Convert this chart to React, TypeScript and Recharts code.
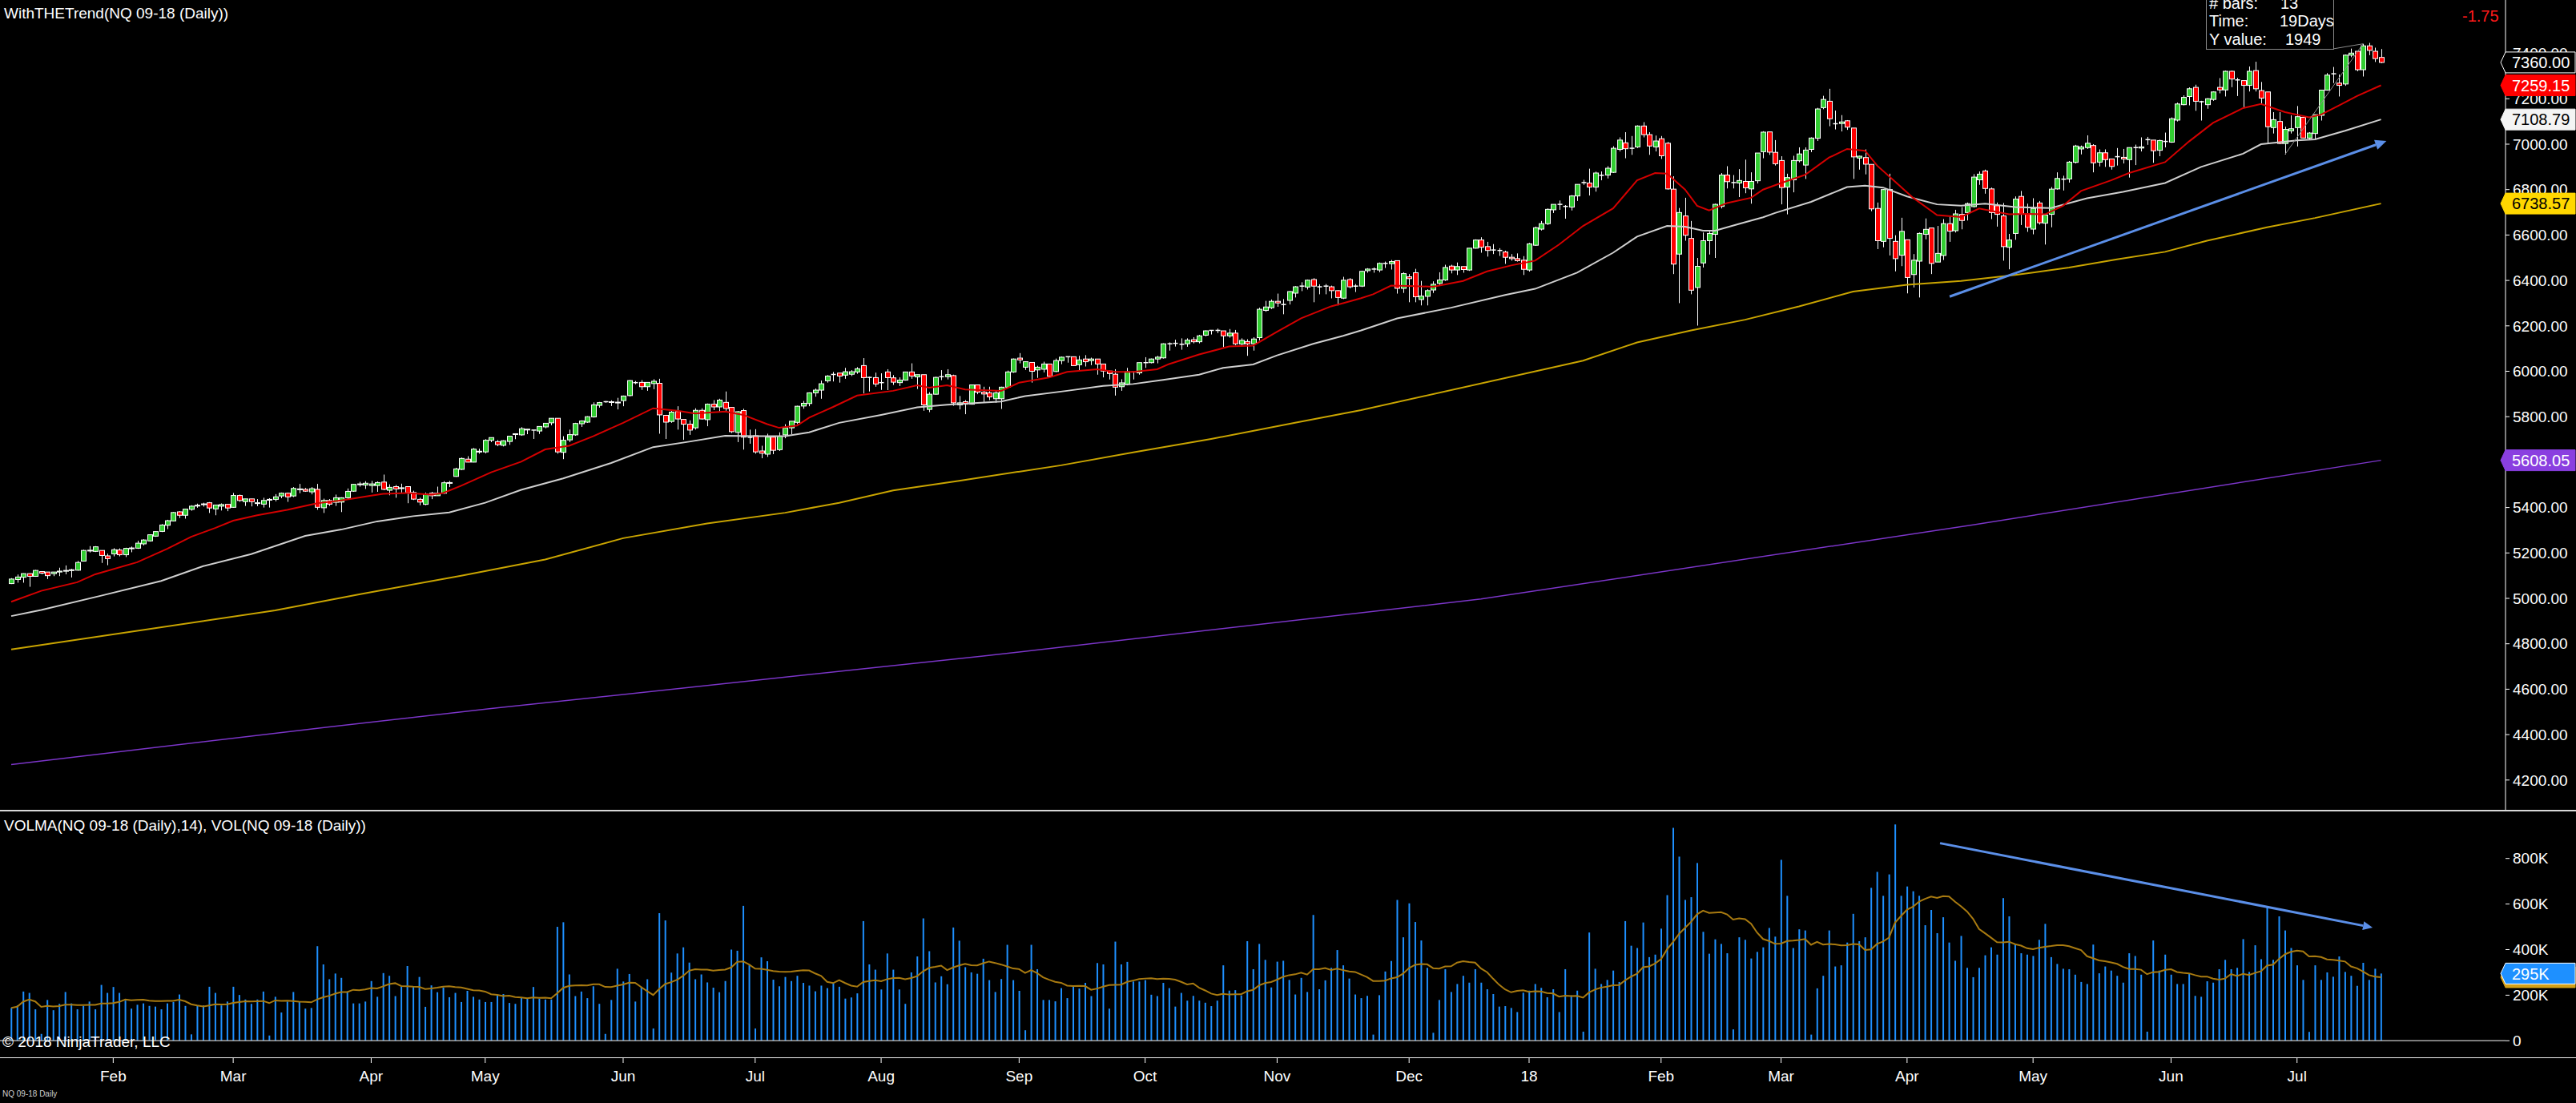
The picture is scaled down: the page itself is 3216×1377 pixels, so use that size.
import React from "react";
import { ComposedChart, Bar, Line, XAxis, YAxis, ReferenceLine } from "recharts";

const FONT = "'Liberation Sans', Arial, Helvetica, sans-serif";

// sessions per month, the first month starts on Jan 9 2017 (CME holiday sessions included)
const monthNames = ["Jan", "Feb", "Mar", "Apr", "May", "Jun", "Jul", "Aug", "Sep", "Oct", "Nov", "Dec", "18", "Feb", "Mar", "Apr", "May", "Jun", "Jul"];
const monthSessions = [17, 20, 23, 19, 23, 22, 21, 23, 21, 22, 22, 20, 22, 20, 21, 21, 23, 21, 15];

const open = [
  5065, 5083, 5093, 5109, 5097, 5118, 5116, 5109, 5116, 5121,
  5124, 5124, 5164, 5210, 5207, 5211, 5187, 5196, 5213, 5192,
  5220, 5221, 5240, 5253, 5274, 5295, 5322, 5341, 5381, 5366,
  5392, 5408, 5414, 5421, 5394, 5406, 5414, 5401, 5453, 5426,
  5438, 5420, 5415, 5434, 5436, 5451, 5463, 5451, 5481, 5480,
  5469, 5480, 5399, 5431, 5423, 5424, 5443, 5472, 5502, 5499,
  5497, 5497, 5512, 5476, 5492, 5486, 5492, 5466, 5436, 5414,
  5463, 5452, 5463, 5509, 5537, 5568, 5613, 5600, 5647, 5645,
  5696, 5690, 5674, 5691, 5724, 5720, 5744, 5741, 5737, 5755,
  5773, 5793, 5643, 5698, 5720, 5769, 5776, 5799, 5850, 5866,
  5865, 5863, 5871, 5893, 5950, 5951, 5932, 5946, 5947, 5806,
  5779, 5823, 5788, 5767, 5751, 5828, 5787, 5855, 5843, 5863,
  5841, 5731, 5827, 5709, 5716, 5649, 5635, 5710, 5655, 5720,
  5751, 5775, 5847, 5858, 5905, 5917, 5958, 5986, 5992, 5983,
  5987, 5997, 6025, 5973, 5972, 5950, 5997, 5971, 5950, 5961,
  5997, 5975, 5985, 5832, 5899, 5976, 5976, 5981, 5852, 5866,
  5855, 5940, 5908, 5905, 5879, 5879, 5930, 5997, 6058, 6018,
  6039, 6006, 6009, 6032, 5999, 6047, 6064, 6064, 6029, 6054,
  6047, 6054, 6032, 6001, 5987, 5932, 5942, 5997, 5993, 6038,
  6038, 6054, 6059, 6121, 6123, 6119, 6121, 6139, 6130, 6159,
  6180, 6180, 6178, 6156, 6168, 6120, 6131, 6121, 6148, 6268,
  6280, 6308, 6294, 6312, 6344, 6375, 6371, 6404, 6372, 6375,
  6372, 6355, 6322, 6404, 6375, 6375, 6443, 6450, 6446, 6475,
  6474, 6487, 6365, 6416, 6434, 6316, 6330, 6358, 6387, 6402,
  6463, 6446, 6461, 6446, 6542, 6578, 6549, 6534, 6532, 6525,
  6502, 6496, 6489, 6446, 6555, 6626, 6650, 6711, 6735, 6726,
  6723, 6772, 6831, 6829, 6811, 6863, 6864, 6876, 6977, 7006,
  6982, 6988, 7080, 7042, 6988, 7024, 7004, 6802, 6516, 6684,
  6585, 6369, 6477, 6575, 6603, 6726, 6864, 6831, 6829, 6836,
  6803, 6839, 6967, 7054, 6964, 6928, 6811, 6843, 6927, 6908,
  6977, 7026, 7161, 7189, 7090, 7091, 7103, 7071, 6939, 6941,
  6911, 6717, 6572, 6800, 6572, 6511, 6579, 6426, 6485, 6603,
  6631, 6481, 6510, 6650, 6619, 6691, 6699, 6725, 6843, 6882,
  6803, 6729, 6684, 6546, 6607, 6770, 6691, 6626, 6741, 6652,
  6691, 6803, 6846, 6847, 6920, 6979, 6985, 6994, 6921, 6962,
  6935, 6945, 6942, 6932, 6985, 6983, 7020, 7018, 6973, 7012,
  7009, 7106, 7174, 7210, 7250, 7187, 7174, 7197, 7250, 7239,
  7321, 7283, 7280, 7259, 7324, 7236, 7230, 7073, 7100, 7003,
  7059, 7073, 7118, 7027, 7047, 7127, 7238, 7310, 7269, 7265,
  7392, 7409, 7328, 7433, 7409, 7382,
];

const high = [
  5089, 5105, 5110, 5110, 5125, 5120, 5116, 5116, 5135, 5145,
  5130, 5165, 5214, 5230, 5230, 5211, 5197, 5221, 5220, 5223,
  5228, 5254, 5260, 5282, 5295, 5327, 5346, 5380, 5384, 5395,
  5410, 5417, 5421, 5424, 5412, 5418, 5414, 5464, 5457, 5438,
  5438, 5437, 5443, 5441, 5459, 5466, 5466, 5490, 5504, 5486,
  5490, 5504, 5439, 5437, 5457, 5445, 5484, 5504, 5513, 5516,
  5517, 5515, 5545, 5502, 5499, 5505, 5492, 5474, 5443, 5466,
  5469, 5492, 5516, 5517, 5575, 5620, 5626, 5662, 5659, 5701,
  5708, 5697, 5696, 5716, 5725, 5754, 5745, 5741, 5757, 5771,
  5793, 5793, 5714, 5743, 5773, 5784, 5802, 5863, 5865, 5869,
  5872, 5883, 5893, 5961, 5957, 5961, 5951, 5965, 5967, 5808,
  5826, 5846, 5788, 5784, 5837, 5837, 5858, 5873, 5879, 5911,
  5843, 5825, 5835, 5743, 5745, 5672, 5725, 5710, 5731, 5767,
  5780, 5848, 5869, 5907, 5924, 5959, 5983, 5997, 5992, 6015,
  6005, 6018, 6058, 5976, 5994, 5991, 6009, 5983, 5973, 5997,
  6035, 5985, 5985, 5908, 5976, 6005, 6009, 5985, 5891, 5873,
  5940, 5940, 5932, 5932, 5914, 5932, 6003, 6056, 6080, 6044,
  6039, 6024, 6042, 6032, 6056, 6065, 6064, 6064, 6068, 6071,
  6060, 6054, 6032, 6003, 6009, 5965, 6015, 6001, 6038, 6062,
  6056, 6068, 6123, 6127, 6139, 6145, 6145, 6150, 6160, 6180,
  6180, 6188, 6178, 6186, 6182, 6145, 6141, 6150, 6280, 6310,
  6316, 6342, 6318, 6353, 6375, 6392, 6404, 6410, 6383, 6384,
  6377, 6357, 6416, 6410, 6384, 6443, 6454, 6457, 6479, 6483,
  6490, 6487, 6436, 6428, 6451, 6398, 6361, 6396, 6436, 6469,
  6469, 6479, 6461, 6542, 6581, 6590, 6570, 6560, 6542, 6531,
  6516, 6519, 6507, 6565, 6637, 6662, 6717, 6735, 6752, 6732,
  6776, 6823, 6843, 6892, 6879, 6880, 6903, 6991, 7030, 7053,
  7036, 7083, 7097, 7053, 7038, 7036, 7010, 6859, 6719, 6764,
  6662, 6499, 6611, 6615, 6738, 6873, 6903, 6864, 6890, 6932,
  6876, 6961, 7057, 7054, 7018, 6947, 6870, 6949, 6986, 6986,
  7030, 7160, 7213, 7244, 7148, 7128, 7106, 7071, 6949, 6977,
  6911, 6743, 6802, 6870, 6599, 6676, 6579, 6516, 6611, 6673,
  6631, 6640, 6670, 6682, 6711, 6723, 6743, 6868, 6880, 6888,
  6809, 6743, 6741, 6605, 6770, 6794, 6738, 6762, 6750, 6691,
  6811, 6876, 6861, 6926, 6997, 6994, 7039, 7000, 6977, 6977,
  6935, 6983, 6979, 6985, 6998, 7030, 7032, 7018, 7020, 7051,
  7118, 7183, 7215, 7250, 7262, 7191, 7203, 7233, 7291, 7324,
  7324, 7292, 7280, 7342, 7363, 7274, 7230, 7141, 7141, 7077,
  7127, 7168, 7118, 7053, 7130, 7238, 7313, 7340, 7307, 7395,
  7421, 7409, 7442, 7446, 7425, 7419,
];

const low = [
  5063, 5069, 5069, 5051, 5095, 5106, 5085, 5098, 5098, 5106,
  5092, 5122, 5162, 5202, 5204, 5156, 5146, 5185, 5185, 5182,
  5203, 5218, 5233, 5250, 5271, 5292, 5305, 5339, 5354, 5351,
  5386, 5399, 5404, 5376, 5366, 5387, 5384, 5399, 5425, 5407,
  5405, 5406, 5400, 5400, 5427, 5441, 5425, 5446, 5463, 5469,
  5458, 5390, 5376, 5407, 5407, 5380, 5437, 5469, 5492, 5482,
  5466, 5469, 5476, 5454, 5443, 5466, 5419, 5433, 5410, 5410,
  5437, 5452, 5460, 5490, 5535, 5565, 5599, 5599, 5637, 5638,
  5688, 5670, 5669, 5676, 5701, 5716, 5723, 5702, 5724, 5749,
  5762, 5637, 5613, 5688, 5716, 5755, 5773, 5796, 5840, 5861,
  5847, 5832, 5846, 5889, 5943, 5918, 5914, 5921, 5725, 5702,
  5773, 5743, 5698, 5720, 5743, 5787, 5758, 5829, 5823, 5826,
  5728, 5688, 5655, 5681, 5637, 5617, 5623, 5635, 5649, 5705,
  5722, 5768, 5835, 5846, 5888, 5879, 5950, 5955, 5950, 5967,
  5979, 5989, 5902, 5911, 5932, 5918, 5917, 5940, 5935, 5959,
  5967, 5922, 5826, 5820, 5897, 5961, 5964, 5848, 5832, 5811,
  5853, 5899, 5861, 5873, 5861, 5834, 5924, 5993, 6035, 6006,
  5950, 5971, 5995, 5973, 5996, 6031, 6038, 6025, 6003, 6021,
  6027, 5985, 5973, 5964, 5893, 5914, 5938, 5964, 5985, 6015,
  6035, 6035, 6056, 6091, 6109, 6095, 6108, 6123, 6123, 6154,
  6162, 6168, 6106, 6148, 6115, 6115, 6068, 6091, 6136, 6262,
  6274, 6284, 6251, 6294, 6325, 6353, 6360, 6304, 6339, 6339,
  6321, 6290, 6318, 6365, 6349, 6371, 6434, 6434, 6436, 6455,
  6448, 6342, 6345, 6304, 6304, 6290, 6290, 6345, 6377, 6398,
  6431, 6424, 6434, 6442, 6540, 6522, 6505, 6516, 6508, 6473,
  6487, 6483, 6424, 6439, 6552, 6620, 6644, 6697, 6711, 6672,
  6708, 6750, 6821, 6774, 6791, 6841, 6849, 6873, 6968, 6938,
  6953, 6983, 7030, 6953, 6968, 6935, 6800, 6428, 6300, 6575,
  6339, 6201, 6457, 6514, 6499, 6717, 6805, 6805, 6767, 6784,
  6738, 6827, 6938, 6953, 6906, 6735, 6691, 6788, 6920, 6847,
  6965, 7014, 7154, 7079, 7065, 7056, 7063, 6847, 6888, 6867,
  6705, 6538, 6546, 6510, 6440, 6463, 6343, 6369, 6325, 6581,
  6428, 6481, 6490, 6570, 6611, 6625, 6664, 6721, 6821, 6782,
  6670, 6637, 6487, 6449, 6579, 6644, 6614, 6603, 6646, 6558,
  6634, 6800, 6796, 6831, 6915, 6955, 6979, 6876, 6902, 6900,
  6888, 6906, 6915, 6853, 6908, 6968, 6997, 6918, 6947, 6986,
  7006, 7100, 7171, 7171, 7147, 7104, 7156, 7191, 7224, 7210,
  7251, 7212, 7159, 7232, 7232, 7177, 7000, 7047, 7000, 6955,
  7047, 6990, 7027, 7018, 7023, 7104, 7236, 7269, 7210, 7257,
  7383, 7321, 7298, 7392, 7362, 7357,
];

const close = [
  5085, 5094, 5109, 5097, 5123, 5111, 5100, 5116, 5120, 5123,
  5126, 5158, 5211, 5212, 5227, 5189, 5175, 5214, 5192, 5220,
  5222, 5243, 5257, 5280, 5294, 5323, 5342, 5378, 5366, 5393,
  5406, 5410, 5416, 5398, 5411, 5413, 5398, 5453, 5431, 5438,
  5426, 5421, 5431, 5436, 5447, 5463, 5447, 5484, 5482, 5472,
  5483, 5401, 5431, 5415, 5443, 5443, 5471, 5502, 5504, 5507,
  5504, 5510, 5480, 5489, 5482, 5487, 5465, 5437, 5424, 5460,
  5452, 5463, 5509, 5510, 5570, 5616, 5600, 5657, 5648, 5696,
  5708, 5677, 5694, 5714, 5725, 5747, 5745, 5741, 5757, 5771,
  5793, 5645, 5696, 5721, 5770, 5781, 5800, 5852, 5862, 5866,
  5866, 5864, 5891, 5959, 5950, 5932, 5951, 5956, 5808, 5776,
  5820, 5790, 5767, 5741, 5828, 5790, 5855, 5843, 5873, 5836,
  5734, 5822, 5710, 5709, 5645, 5639, 5710, 5652, 5714, 5751,
  5780, 5846, 5859, 5905, 5917, 5945, 5979, 5986, 5979, 5998,
  5998, 6011, 5972, 5973, 5944, 5950, 5972, 5952, 5961, 5997,
  5979, 5985, 5852, 5899, 5973, 5976, 5985, 5861, 5861, 5855,
  5940, 5908, 5900, 5887, 5905, 5930, 5997, 6054, 6050, 6042,
  6000, 6018, 6032, 5978, 6047, 6062, 6064, 6025, 6050, 6042,
  6054, 6032, 6001, 5990, 5930, 5949, 5998, 5997, 6038, 6038,
  6054, 6062, 6121, 6121, 6123, 6119, 6137, 6130, 6156, 6178,
  6180, 6180, 6156, 6168, 6121, 6136, 6121, 6142, 6273, 6283,
  6308, 6301, 6294, 6351, 6372, 6375, 6401, 6375, 6372, 6375,
  6355, 6325, 6401, 6372, 6375, 6440, 6450, 6450, 6475, 6475,
  6483, 6365, 6430, 6408, 6328, 6331, 6355, 6383, 6402, 6457,
  6446, 6461, 6448, 6542, 6578, 6546, 6532, 6534, 6532, 6502,
  6496, 6487, 6449, 6561, 6632, 6650, 6713, 6735, 6735, 6726,
  6772, 6823, 6831, 6811, 6873, 6863, 6894, 6982, 7018, 6980,
  6982, 7080, 7042, 6992, 7014, 6949, 6803, 6472, 6699, 6599,
  6357, 6462, 6575, 6607, 6735, 6864, 6835, 6831, 6840, 6808,
  6836, 6961, 7053, 6965, 6914, 6809, 6853, 6928, 6957, 6974,
  7027, 7155, 7197, 7112, 7090, 7098, 7075, 6944, 6947, 6912,
  6715, 6575, 6800, 6585, 6496, 6616, 6413, 6489, 6607, 6625,
  6475, 6519, 6650, 6617, 6693, 6664, 6738, 6855, 6868, 6805,
  6699, 6691, 6549, 6578, 6758, 6693, 6634, 6717, 6654, 6688,
  6802, 6849, 6846, 6921, 6992, 6988, 7004, 6918, 6962, 6932,
  6902, 6945, 6935, 6985, 6985, 6988, 7020, 6971, 7016, 7012,
  7112, 7177, 7206, 7244, 7189, 7187, 7200, 7230, 7239, 7321,
  7287, 7283, 7259, 7321, 7244, 7203, 7077, 7108, 7003, 7065,
  7068, 7121, 7027, 7049, 7130, 7238, 7304, 7310, 7259, 7392,
  7401, 7328, 7433, 7413, 7377, 7360,
];

// volume in thousands of contracts
const volumeK = [
  144, 155, 216, 210, 138, 30, 179, 134, 162, 214,
  164, 138, 153, 172, 138, 245, 210, 236, 210, 176,
  141, 158, 164, 153, 150, 138, 164, 170, 203, 153,
  28, 155, 155, 237, 210, 155, 172, 237, 201, 181,
  162, 181, 216, 23, 193, 124, 172, 214, 173, 141,
  144, 415, 335, 270, 295, 276, 214, 164, 164, 172,
  262, 193, 297, 285, 196, 237, 328, 239, 280, 149,
  243, 213, 233, 191, 210, 170, 219, 193, 181, 170,
  170, 202, 205, 166, 162, 190, 185, 236, 185, 181,
  181, 500, 520, 291, 196, 216, 187, 239, 162, 30,
  179, 316, 260, 293, 172, 237, 270, 54, 560, 528,
  299, 383, 410, 343, 270, 291, 256, 233, 213, 262,
  400, 395, 592, 331, 54, 366, 349, 268, 239, 280,
  262, 285, 254, 242, 217, 242, 231, 254, 237, 185,
  190, 208, 525, 335, 312, 225, 383, 312, 225, 162,
  300, 370, 537, 393, 256, 283, 248, 497, 439, 323,
  300, 294, 360, 266, 214, 271, 421, 266, 219, 46,
  421, 314, 179, 179, 173, 231, 187, 237, 229, 254,
  196, 341, 335, 141, 435, 335, 346, 260, 260, 266,
  202, 196, 254, 231, 150, 210, 176, 197, 176, 167,
  152, 176, 331, 220, 222, 199, 437, 314, 425, 355,
  234, 347, 351, 267, 203, 276, 214, 552, 226, 265,
  320, 398, 331, 273, 203, 187, 197, 27, 200, 304,
  350, 618, 454, 603, 521, 440, 320, 35, 179, 314,
  214, 249, 285, 255, 314, 255, 226, 205, 150, 152,
  144, 126, 211, 220, 249, 232, 191, 226, 126, 314,
  199, 220, 40, 475, 316, 249, 267, 308, 258, 525,
  417, 407, 519, 367, 378, 492, 639, 934, 808, 618,
  630, 780, 478, 382, 445, 425, 384, 50, 454, 443,
  361, 390, 410, 495, 457, 794, 636, 407, 489, 484,
  27, 230, 285, 484, 326, 331, 431, 557, 437, 454,
  671, 741, 636, 730, 949, 636, 677, 656, 636, 507,
  574, 472, 542, 431, 351, 460, 320, 279, 320, 375,
  410, 378, 626, 546, 425, 384, 378, 372, 443, 513,
  367, 337, 316, 314, 290, 258, 249, 422, 296, 326,
  308, 285, 255, 384, 372, 290, 40, 440, 308, 378,
  290, 249, 249, 293, 197, 193, 261, 255, 314, 355,
  314, 320, 446, 302, 419, 358, 589, 355, 546, 484,
  407, 331, 267, 39, 331, 267, 300, 281, 370, 302,
  285, 241, 342, 267, 316, 295,
];

// moving averages at sample bars: [bar, value]
const maRed: [number, number][] = [
  [0, 4985], [5, 5033], [11, 5071], [14, 5106], [21, 5159], [26, 5218], [30, 5271], [34, 5310],
  [37, 5342], [41, 5366], [46, 5390], [51, 5419], [55, 5431], [60, 5452], [62, 5460], [66, 5464],
  [70, 5457], [72, 5464], [75, 5496], [80, 5555], [85, 5602], [89, 5656], [93, 5672], [97, 5714],
  [102, 5773], [107, 5837], [111, 5826], [114, 5814], [119, 5823], [122, 5808], [126, 5767],
  [128, 5751], [131, 5761], [133, 5796], [137, 5843], [141, 5893], [147, 5914], [151, 5938],
  [153, 5928], [156, 5938], [159, 5920], [165, 5914], [168, 5950], [173, 5973], [176, 5997],
  [181, 6009], [184, 5997], [187, 5997], [191, 6009], [193, 6032], [198, 6074], [203, 6109],
  [207, 6113], [211, 6174], [215, 6233], [220, 6286], [222, 6300], [225, 6322], [227, 6339],
  [230, 6377], [234, 6375], [237, 6372], [242, 6398], [246, 6440], [250, 6466], [254, 6487],
  [258, 6558], [262, 6640], [267, 6717], [271, 6841], [274, 6873], [276, 6870], [279, 6800],
  [281, 6729], [283, 6708], [286, 6741], [290, 6764], [292, 6800], [295, 6829], [299, 6865],
  [303, 6941], [306, 6979], [309, 6971], [311, 6906], [314, 6835], [317, 6764], [321, 6688],
  [325, 6679], [328, 6717], [333, 6691], [336, 6693], [339, 6691], [342, 6729], [345, 6794],
  [350, 6841], [353, 6873], [359, 6921], [363, 7012], [367, 7094], [372, 7159], [375, 7177],
  [379, 7141], [383, 7118], [385, 7130], [388, 7171], [391, 7212], [395, 7259.15],
];

const maWhite: [number, number][] = [
  [0, 4922], [5, 4949], [15, 5012], [25, 5077], [32, 5142], [40, 5195], [49, 5275], [55, 5303],
  [61, 5339], [67, 5362], [73, 5378], [79, 5421], [85, 5478], [92, 5528], [100, 5596],
  [107, 5666], [113, 5690], [119, 5716], [125, 5714], [129, 5714], [133, 5731], [138, 5773],
  [145, 5808], [151, 5841], [156, 5853], [165, 5867], [169, 5891], [176, 5914], [182, 5936],
  [187, 5944], [192, 5962], [198, 5985], [202, 6015], [207, 6030], [211, 6070], [217, 6121],
  [222, 6156], [225, 6180], [231, 6233], [240, 6280], [249, 6336], [254, 6363], [261, 6434],
  [267, 6522], [271, 6593], [276, 6640], [279, 6637], [282, 6619], [284, 6619], [288, 6649],
  [292, 6678], [294, 6697], [300, 6746], [306, 6811], [309, 6817], [312, 6809], [316, 6770],
  [321, 6735], [325, 6729], [329, 6738], [334, 6723], [340, 6719], [346, 6762], [352, 6790],
  [359, 6829], [365, 6900], [372, 6958], [375, 7000], [381, 7017], [384, 7021], [389, 7059],
  [395, 7108.79],
];

const maGold: [number, number][] = [
  [0, 4775], [44, 4947], [58, 5018], [75, 5100], [89, 5171], [102, 5265], [116, 5330],
  [129, 5377], [138, 5421], [147, 5475], [158, 5518], [175, 5586], [187, 5643], [200, 5702],
  [214, 5773], [225, 5829], [262, 6047], [271, 6127], [280, 6180], [289, 6227], [298, 6286],
  [307, 6351], [316, 6381], [325, 6398], [334, 6424], [343, 6457], [351, 6493], [359, 6526],
  [366, 6575], [376, 6634], [384, 6675], [395, 6738.57],
];

const maPurple: [number, number][] = [
  [0, 4268], [53, 4434], [80, 4515], [162, 4746], [245, 4997], [327, 5324], [395, 5608.05],
];

const priceTicks = [4200, 4400, 4600, 4800, 5000, 5200, 5400, 5600, 5800, 6000, 6200, 6400, 6600, 6800, 7000, 7200, 7400];
const volumeTicks = [0, 200, 400, 600, 800];

// drawn annotations: [bar, value] end points
const priceArrow = { x1: 323.1, y1: 6329, x2: 395.9, y2: 7014 };
const volumeArrow = { x1: 321.5, y1: 867, x2: 393.6, y2: 497 };
const rulerFrom = 379;
const rulerTo = 392;
const rulerBoxCorner = { x: 387.05, y: 7420 };

const X_DOMAIN: [number, number] = [-1.87, 415.75];
const PRICE_DOMAIN: [number, number] = [4068.8, 7634.9];
const VOL_DOMAIN: [number, number] = [-76.3, 1002.8];

const monthStarts: number[] = [];
monthSessions.reduce((acc, n) => {
  monthStarts.push(acc);
  return acc + n;
}, 0);
const monthTicks = monthStarts.slice(1);

const data = close.map((c, i) => {
  const from = Math.max(0, i - 13);
  const win = volumeK.slice(from, i + 1);
  return {
    i,
    hl: [low[i], high[i]],
    o: open[i],
    h: high[i],
    l: low[i],
    c,
    vol: volumeK[i],
    volMa: win.reduce((s, v) => s + v, 0) / win.length,
  };
});

const toSeries = (pts: [number, number][]) => pts.map(([i, v]) => ({ i, v }));
const redSeries = toSeries(maRed);
const whiteSeries = toSeries(maWhite);
const goldSeries = toSeries(maGold);
const purpleSeries = toSeries(maPurple);
const lastOf = (pts: [number, number][]) => pts[pts.length - 1][1];

const last = data[data.length - 1];

function Candle(props: any) {
  const { x, y, width, height, payload } = props;
  if (x == null || payload == null) return null;
  const { o, c, h, l } = payload;
  const yTop = Math.min(y, y + height);
  const span = Math.abs(height);
  const cx = Math.round(x + width / 2) + 0.5;
  const toY = (v: number) => (h - l > 0 ? yTop + ((h - v) / (h - l)) * span : yTop);
  const bTop = toY(Math.max(o, c));
  const bBot = toY(Math.min(o, c));
  const flat = Math.abs(c - o) < 1;
  const fill = c > o ? "#32cd32" : "#ff0000";
  return (
    <g>
      <line x1={cx} x2={cx} y1={yTop} y2={yTop + span} stroke="#ffffff" strokeWidth={1} />
      {flat ? (
        <line x1={cx - 3} x2={cx + 3} y1={bTop} y2={bTop} stroke="#ffffff" strokeWidth={1.5} />
      ) : (
        <rect x={cx - 3} y={bTop} width={6} height={Math.max(bBot - bTop, 1)} fill={fill} stroke="#ffffff" strokeWidth={1} />
      )}
    </g>
  );
}

const valueTag = (text: string, fill: string, color: string, stroke: string) => (props: any) => {
  const vb = props.viewBox;
  if (!vb) return null;
  const r = vb.x + vb.width;
  const cy = vb.y;
  return (
    <g>
      <polygon
        points={`${r - 6},${cy} ${r},${cy - 13} ${r + 87},${cy - 13} ${r + 87},${cy + 13} ${r},${cy + 13}`}
        fill={fill}
        stroke={stroke}
        strokeWidth={1}
      />
      <text x={r + 8} y={cy} dy="0.36em" fill={color} fontSize={20} fontFamily={FONT}>
        {text}
      </text>
    </g>
  );
};

const arrowShape = (color: string, w: number, head: number) => (p: any) => {
  const { x1, y1, x2, y2 } = p;
  if (x1 == null) return null;
  const ang = Math.atan2(y2 - y1, x2 - x1);
  const bx = x2 - head * Math.cos(ang);
  const by = y2 - head * Math.sin(ang);
  const nx = -Math.sin(ang) * head * 0.45;
  const ny = Math.cos(ang) * head * 0.45;
  return (
    <g>
      <line x1={x1} y1={y1} x2={bx} y2={by} stroke={color} strokeWidth={w} />
      <polygon points={`${x2},${y2} ${bx + nx},${by + ny} ${bx - nx},${by - ny}`} fill={color} />
    </g>
  );
};

const axisTick = { fill: "#ffffff", fontSize: 19, fontFamily: FONT };
const MARGIN = { top: 0, right: 0, bottom: 0, left: 0 };

const text = (s: React.CSSProperties): React.CSSProperties => ({
  position: "absolute",
  color: "#ffffff",
  fontFamily: FONT,
  fontSize: 19,
  lineHeight: "24px",
  whiteSpace: "nowrap",
  ...s,
});

const maLine = (series: { i: number; v: number }[], color: string, w: number) => (
  <Line data={series} dataKey="v" stroke={color} strokeWidth={w} dot={false} activeDot={false} isAnimationActive={false} />
);

export default function App() {
  return (
    <div style={{ position: "absolute", left: 0, top: 0, width: 3216, height: 1377, background: "#000", overflow: "hidden" }}>
      {/* price pane */}
      <div style={{ position: "absolute", left: 0, top: 0 }}>
        <ComposedChart width={3216} height={1011} data={data} margin={MARGIN}>
          <XAxis dataKey="i" type="number" domain={X_DOMAIN} allowDataOverflow hide />
          <YAxis
            orientation="right"
            width={88}
            type="number"
            domain={PRICE_DOMAIN}
            allowDataOverflow
            ticks={priceTicks}
            interval={0}
            tickFormatter={(v: number) => v.toFixed(2)}
            tick={axisTick}
            tickSize={5}
            tickMargin={4}
            axisLine={{ stroke: "#ffffff" }}
            tickLine={{ stroke: "#ffffff" }}
          />
          {maLine(purpleSeries, "#7b35c8", 1.5)}
          {maLine(goldSeries, "#c9a400", 2)}
          {maLine(whiteSeries, "#cfcfcf", 2)}
          {maLine(redSeries, "#d40000", 2)}
          <Bar dataKey="hl" barSize={6} shape={(p: any) => <Candle {...p} />} isAnimationActive={false} />
          <ReferenceLine
            segment={[{ x: priceArrow.x1, y: priceArrow.y1 }, { x: priceArrow.x2, y: priceArrow.y2 }]}
            ifOverflow="visible"
            shape={arrowShape("#5b8fe8", 3, 14)}
          />
          <ReferenceLine
            segment={[{ x: rulerFrom, y: low[rulerFrom] }, { x: rulerTo, y: high[rulerTo] }]}
            ifOverflow="visible"
            stroke="#8a8a8a"
            strokeWidth={1}
          />
          <ReferenceLine
            segment={[{ x: rulerBoxCorner.x, y: rulerBoxCorner.y }, { x: rulerTo, y: high[rulerTo] }]}
            ifOverflow="visible"
            stroke="#8a8a8a"
            strokeWidth={1}
          />
        </ComposedChart>
      </div>

      {/* price value tags, drawn above the axis labels */}
      <div style={{ position: "absolute", left: 0, top: 0 }}>
        <ComposedChart width={3216} height={1011} data={data} margin={MARGIN}>
          <XAxis dataKey="i" type="number" domain={X_DOMAIN} allowDataOverflow hide />
          <YAxis orientation="right" width={88} type="number" domain={PRICE_DOMAIN} allowDataOverflow tick={false} axisLine={false} tickLine={false} />
          <ReferenceLine y={lastOf(maPurple)} stroke="none" label={valueTag(lastOf(maPurple).toFixed(2), "#8a3fe0", "#ffffff", "#8a3fe0")} />
          <ReferenceLine y={lastOf(maGold)} stroke="none" label={valueTag(lastOf(maGold).toFixed(2), "#ffd700", "#000000", "#ffd700")} />
          <ReferenceLine y={lastOf(maWhite)} stroke="none" label={valueTag(lastOf(maWhite).toFixed(2), "#f4f4f4", "#000000", "#f4f4f4")} />
          <ReferenceLine y={lastOf(maRed)} stroke="none" label={valueTag(lastOf(maRed).toFixed(2), "#ff0000", "#ffffff", "#ff0000")} />
          <ReferenceLine y={last.c} stroke="none" label={valueTag(last.c.toFixed(2), "#000000", "#ffffff", "#ffffff")} />
        </ComposedChart>
      </div>

      {/* volume pane */}
      <div style={{ position: "absolute", left: 0, top: 1014 }}>
        <ComposedChart width={3216} height={363} data={data} margin={MARGIN}>
          <XAxis
            dataKey="i"
            type="number"
            domain={X_DOMAIN}
            allowDataOverflow
            ticks={monthTicks}
            interval={0}
            height={56}
            tickFormatter={(v: number) => monthNames[monthStarts.indexOf(v)]}
            tick={axisTick}
            tickSize={6}
            tickMargin={10}
            axisLine={false}
            tickLine={{ stroke: "#ffffff" }}
          />
          <YAxis
            orientation="right"
            width={88}
            type="number"
            domain={VOL_DOMAIN}
            allowDataOverflow
            ticks={volumeTicks}
            interval={0}
            tickFormatter={(v: number) => (v === 0 ? "0" : `${v}K`)}
            tick={axisTick}
            tickSize={5}
            tickMargin={4}
            axisLine={false}
            tickLine={{ stroke: "#ffffff" }}
          />
          <ReferenceLine y={0} stroke="#a8a8a8" strokeWidth={1.5} />
          <Bar dataKey="vol" barSize={2} fill="#1e90ff" isAnimationActive={false} />
          <Line dataKey="volMa" stroke="#a87a10" strokeWidth={2} dot={false} activeDot={false} isAnimationActive={false} />
          <ReferenceLine
            segment={[{ x: volumeArrow.x1, y: volumeArrow.y1 }, { x: volumeArrow.x2, y: volumeArrow.y2 }]}
            ifOverflow="visible"
            shape={arrowShape("#5b8fe8", 3, 12)}
          />
        </ComposedChart>
      </div>

      {/* volume value tags */}
      <div style={{ position: "absolute", left: 0, top: 1014 }}>
        <ComposedChart width={3216} height={363} data={data} margin={MARGIN}>
          <XAxis dataKey="i" type="number" domain={X_DOMAIN} allowDataOverflow height={56} tick={false} axisLine={false} tickLine={false} />
          <YAxis orientation="right" width={88} type="number" domain={VOL_DOMAIN} allowDataOverflow tick={false} axisLine={false} tickLine={false} />
          <ReferenceLine y={last.volMa} stroke="none" label={valueTag("", "#d4a017", "#000000", "#d4a017")} />
          <ReferenceLine y={last.vol} stroke="none" label={valueTag(`${last.vol}K`, "#1e90ff", "#ffffff", "#ffffff")} />
        </ComposedChart>
      </div>

      <div style={{ position: "absolute", left: 0, top: 1011, width: 3216, height: 2, background: "#d8d8d8" }} />
      <div style={{ position: "absolute", left: 0, top: 1320, width: 3216, height: 1, background: "#f0f0f0" }} />

      <div style={text({ left: 5, top: 5 })}>WithTHETrend(NQ 09-18 (Daily))</div>
      <div style={text({ left: 5, top: 1019 })}>VOLMA(NQ 09-18 (Daily),14), VOL(NQ 09-18 (Daily))</div>
      <div style={text({ left: 3, top: 1289 })}>© 2018 NinjaTrader, LLC</div>
      <div style={text({ left: 3, top: 1360, fontSize: 10, lineHeight: "12px", color: "#d0d0d0" })}>NQ 09-18 Daily</div>
      <div style={text({ left: 3074, top: 8, color: "#ff1a1a", fontSize: 20 })}>-1.75</div>

      <div style={{ position: "absolute", left: 2754, top: -12, width: 158, height: 72, border: "1px solid #8a8a8a", background: "#000" }} />
      <div style={text({ left: 2758, top: -8, fontSize: 20 })}># bars:</div>
      <div style={text({ left: 2847, top: -8, fontSize: 20 })}>13</div>
      <div style={text({ left: 2758, top: 14, fontSize: 20 })}>Time:</div>
      <div style={text({ left: 2846, top: 14, fontSize: 20 })}>19Days</div>
      <div style={text({ left: 2758, top: 37, fontSize: 20 })}>Y value:</div>
      <div style={text({ left: 2853, top: 37, fontSize: 20 })}>1949</div>
    </div>
  );
}
